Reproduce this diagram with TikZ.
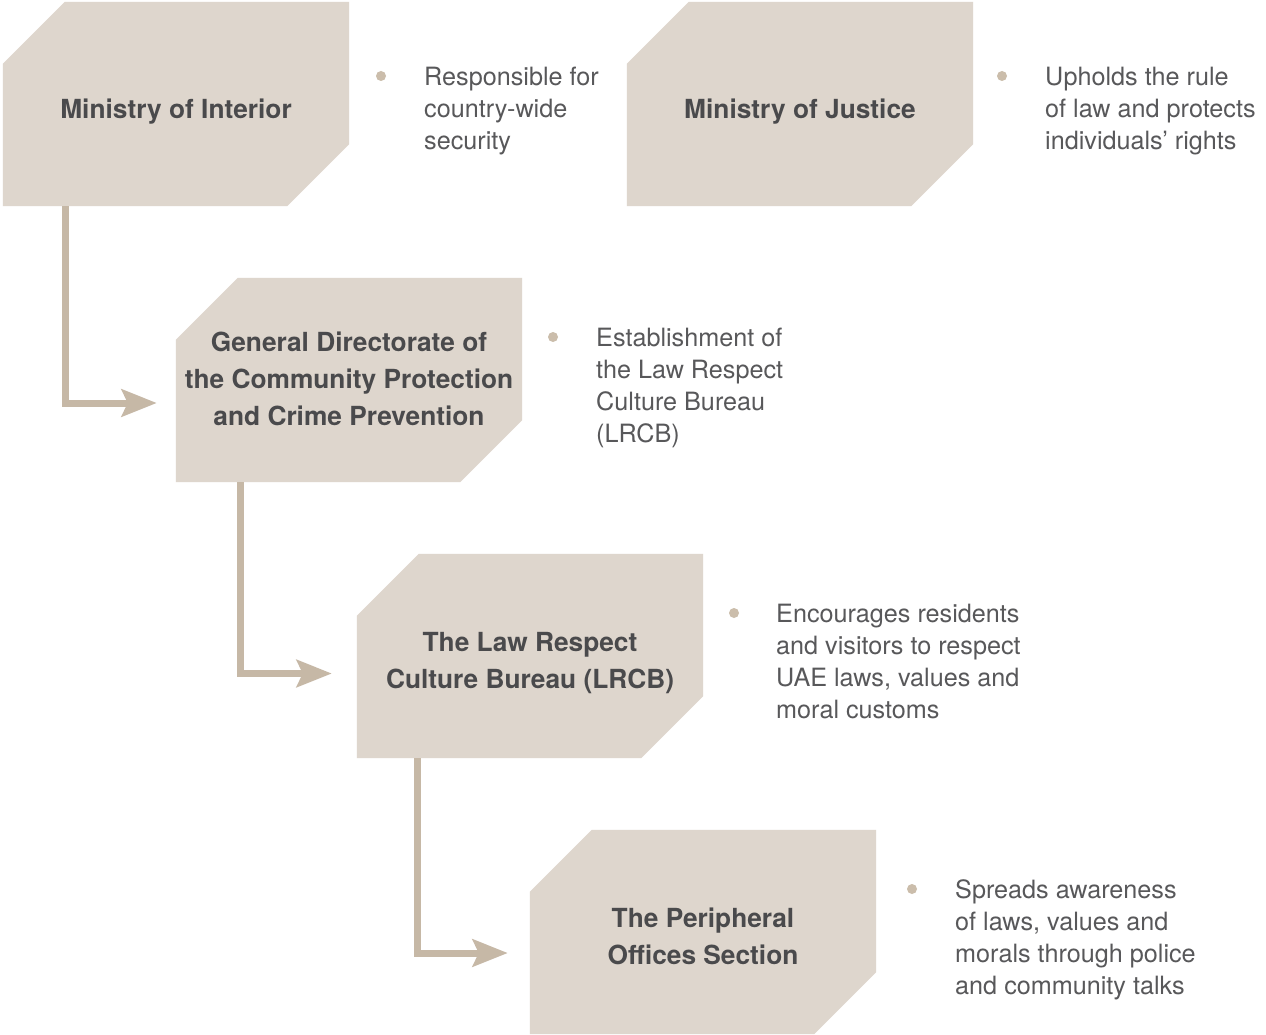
\documentclass[tikz,border=0pt]{standalone}
\usepackage{fontspec}
\setmainfont{TeX Gyre Heros}
\usetikzlibrary{arrows.meta,calc}
\definecolor{boxfill}{HTML}{DED6CD}
\definecolor{conncol}{HTML}{C6B8A6}
\definecolor{dotcol}{HTML}{CBBDAB}
\definecolor{boldtext}{HTML}{4A4A4C}
\definecolor{lighttext}{HTML}{58585A}
\newcommand\lstrut{\rule[-8pt]{0pt}{26pt}}
\newcommand\fstrut{\rule{0pt}{19pt}}
\newcommand\cutbox[3]{%
  \node[boxnode] (#1) at (#2,#3) {};
  \fill[boxfill] ($(#1.north west)+(62,0)$) -- (#1.north east) -- ($(#1.south east)+(0,-62)$)
    -- ($(#1.south east)+(-62,0)$) -- (#1.south west) -- ($(#1.north west)+(0,62)$) -- cycle;}
\begin{document}
\begin{tikzpicture}[x=1pt,y=-1pt,
  boxnode/.style={rectangle,inner sep=0pt,minimum width=346pt,minimum height=204pt},
  boxlabel/.style={font=\fontsize{26.3}{37}\selectfont\bfseries,text=boldtext,align=center,inner sep=0pt},
  bullettext/.style={font=\fontsize{25.2}{32}\selectfont,text=lighttext,align=left,inner sep=0pt,anchor=north west},
  dotnode/.style={circle,fill=dotcol,minimum size=10pt,inner sep=0pt},
  connector/.style={draw=conncol,line width=7pt,-{Stealth[length=35pt,width=27pt,inset=6pt]}}]
\fill[white] (0,0) rectangle (1266,1035);
\useasboundingbox (0,0) rectangle (1266,1035);

\cutbox{moi}{176}{104}
\cutbox{moj}{800}{104}
\cutbox{gd}{349}{380}
\cutbox{lrcb}{530}{656}
\cutbox{pos}{703}{932}

\node[boxlabel] (moil) at (176,113) {\lstrut Ministry of Interior};
\node[boxlabel] (mojl) at (800,113) {\lstrut Ministry of Justice};
\node[boxlabel] (gdl) at (349,383) {\lstrut General Directorate of\\the Community Protection\\and Crime Prevention\lstrut};
\node[boxlabel] (lrcbl) at (530,664.5) {\lstrut The Law Respect\\Culture Bureau (LRCB)\lstrut};
\node[boxlabel] (posl) at (703,940.5) {\lstrut The Peripheral\\Offices Section\lstrut};

\node[dotnode] (d1) at (381,76) {};
\node[bullettext] (t1) at (424,66) {\fstrut Responsible for\\country-wide\\security};
\node[dotnode] (d2) at (1002,76) {};
\node[bullettext] (t2) at (1045,66) {\fstrut Upholds the rule\\of law and protects\\individuals’ rights};
\node[dotnode] (d3) at (553,337) {};
\node[bullettext] (t3) at (596,327) {\fstrut Establishment of\\the Law Respect\\Culture Bureau\\(LRCB)};
\node[dotnode] (d4) at (734,613) {};
\node[bullettext] (t4) at (776,603) {\fstrut Encourages residents\\and visitors to respect\\UAE laws, values and\\moral customs};
\node[dotnode] (d5) at (912,889) {};
\node[bullettext] (t5) at (955,879) {\fstrut Spreads awareness\\of laws, values and\\morals through police\\and community talks};

\draw[connector] ($(moi.south west)+(63,0)$) |- ($(gd.west)+(-19,23)$);
\draw[connector] ($(gd.south west)+(65,0)$) |- ($(lrcb.west)+(-25,17.5)$);
\draw[connector] ($(lrcb.south west)+(61,0)$) |- ($(pos.west)+(-22,21)$);
\end{tikzpicture}
\end{document}
